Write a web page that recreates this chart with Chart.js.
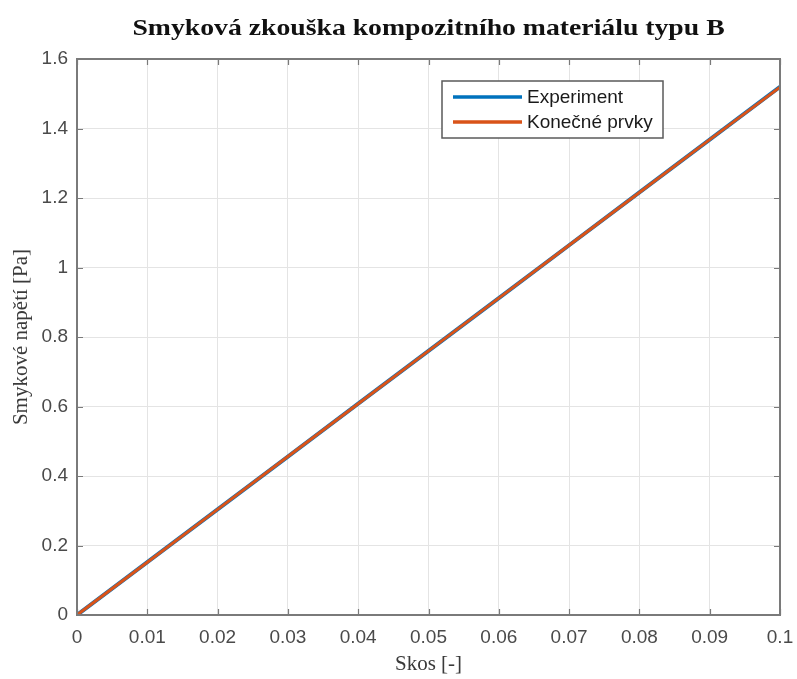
<!DOCTYPE html>
<html>
<head>
<meta charset="utf-8">
<script src="https://cdn.jsdelivr.net/npm/chart.js@4/dist/chart.umd.min.js"></script>
<style>
  html, body { margin: 0; padding: 0; background: #ffffff; }
  #wrap { width: 797px; height: 679px; }
</style>
</head>
<body>
<div id="wrap"><canvas id="c" width="797" height="679"></canvas></div>
<script>
// Skos (shear strain) samples
const skos = [0, 0.01, 0.02, 0.03, 0.04, 0.05, 0.06, 0.07, 0.08, 0.09, 0.1];
// Measured shear stress
const experiment = [0, 0.152, 0.304, 0.456, 0.608, 0.760, 0.912, 1.064, 1.216, 1.368, 1.520];
// Finite element result
const konecnePrvky = [0, 0.152, 0.304, 0.456, 0.608, 0.760, 0.912, 1.064, 1.216, 1.368, 1.519];

const xTickLabels = ['0', '0.01', '0.02', '0.03', '0.04', '0.05', '0.06', '0.07', '0.08', '0.09', '0.1'];
const yTickLabels = ['0', '0.2', '0.4', '0.6', '0.8', '1', '1.2', '1.4', '1.6'];

const chartTitle = 'Smyková zkouška kompozitního materiálu typu B';
const seriesNames = ['Experiment', 'Konečné prvky'];
const seriesColors = ['#0072BD', '#D95319'];

const AXIS_COLOR = '#7a7a7a';
const TICK_TEXT = '#4a4a4a';

function toPoints(xs, ys) { return xs.map((x, i) => ({ x: x, y: ys[i] })); }

// Bold serif title centred over the plot area, slightly widened
const plotTitle = {
  id: 'plotTitle',
  afterDraw(chart) {
    const { ctx, chartArea: a } = chart;
    const cx = (a.left + a.right) / 2;
    ctx.save();
    ctx.translate(cx, 35);
    ctx.scale(1.155, 1);
    ctx.font = 'bold 24px "Liberation Serif", "Times New Roman", serif';
    ctx.fillStyle = '#111111';
    ctx.textAlign = 'center';
    ctx.textBaseline = 'alphabetic';
    ctx.fillText(chartTitle, 0, 0);
    ctx.restore();
  }
};

// Box around the axes with inward tick marks on all four sides
const frameTicks = {
  id: 'frameTicks',
  afterDatasetsDraw(chart) {
    const { ctx, chartArea: a, scales } = chart;
    const len = 6;
    ctx.save();
    ctx.strokeStyle = AXIS_COLOR;
    ctx.lineWidth = 1.2;
    ctx.beginPath();
    scales.x.ticks.forEach(t => {
      const px = Math.round(scales.x.getPixelForValue(t.value)) + 0.5;
      ctx.moveTo(px, a.bottom); ctx.lineTo(px, a.bottom - len);
      ctx.moveTo(px, a.top); ctx.lineTo(px, a.top + len);
    });
    scales.y.ticks.forEach(t => {
      const py = Math.round(scales.y.getPixelForValue(t.value)) + 0.5;
      ctx.moveTo(a.left, py); ctx.lineTo(a.left + len, py);
      ctx.moveTo(a.right, py); ctx.lineTo(a.right - len, py);
    });
    ctx.stroke();
    ctx.lineWidth = 2;
    ctx.strokeRect(a.left, a.top, a.right - a.left, a.bottom - a.top);
    ctx.restore();
  }
};

// Legend box inside the axes, upper right
const boxLegend = {
  id: 'boxLegend',
  afterDraw(chart) {
    const { ctx } = chart;
    const x0 = 442, y0 = 81, w = 221, h = 57;
    ctx.save();
    ctx.fillStyle = '#ffffff';
    ctx.fillRect(x0, y0, w, h);
    ctx.strokeStyle = '#5a5a5a';
    ctx.lineWidth = 1.5;
    ctx.strokeRect(x0, y0, w, h);
    ctx.font = '19px "Liberation Sans", Arial, sans-serif';
    ctx.textBaseline = 'middle';
    ctx.textAlign = 'left';
    chart.data.datasets.forEach((ds, i) => {
      const yy = y0 + 16 + i * 25;
      ctx.strokeStyle = ds.borderColor;
      ctx.lineWidth = 3.5;
      ctx.beginPath();
      ctx.moveTo(x0 + 11, yy);
      ctx.lineTo(x0 + 80, yy);
      ctx.stroke();
      ctx.fillStyle = '#1a1a1a';
      ctx.fillText(ds.label, x0 + 85, yy + 1);
    });
    ctx.restore();
  }
};

new Chart(document.getElementById('c'), {
  type: 'line',
  data: {
    datasets: [
      {
        label: seriesNames[0],
        data: toPoints(skos, experiment),
        borderColor: seriesColors[0],
        borderWidth: 4,
        pointRadius: 0,
        tension: 0,
        order: 2
      },
      {
        label: seriesNames[1],
        data: toPoints(skos, konecnePrvky),
        borderColor: seriesColors[1],
        borderWidth: 3,
        pointRadius: 0,
        tension: 0,
        order: 1
      }
    ]
  },
  options: {
    responsive: false,
    animation: false,
    layout: { padding: { left: 0, right: 0, top: 59, bottom: 0 } },
    plugins: {
      legend: { display: false },
      tooltip: { enabled: false },
      title: { display: false }
    },
    scales: {
      x: {
        type: 'linear',
        min: 0,
        max: 0.1,
        afterFit: s => { s.height = 64; s.paddingRight = 17; s.paddingLeft = 0; },
        ticks: {
          stepSize: 0.01,
          padding: 11,
          color: TICK_TEXT,
          maxRotation: 0,
          font: { family: '"Liberation Sans", Arial, sans-serif', size: 19 },
          callback: (v, i) => xTickLabels[i]
        },
        grid: { color: '#e4e4e4', lineWidth: 1, drawTicks: false },
        border: { display: false },
        title: {
          display: true,
          text: 'Skos [-]',
          color: '#3a3a3a',
          font: { family: '"Liberation Serif", "Times New Roman", serif', size: 21 },
          padding: { top: 0, bottom: 2 }
        }
      },
      y: {
        type: 'linear',
        min: 0,
        max: 1.6,
        afterFit: s => { s.width = 77; },
        ticks: {
          stepSize: 0.2,
          padding: 9,
          color: TICK_TEXT,
          font: { family: '"Liberation Sans", Arial, sans-serif', size: 19 },
          callback: (v, i) => yTickLabels[i]
        },
        grid: { color: '#e4e4e4', lineWidth: 1, drawTicks: false },
        border: { display: false },
        title: {
          display: true,
          text: 'Smykové napětí [Pa]',
          color: '#3a3a3a',
          font: { family: '"Liberation Serif", "Times New Roman", serif', size: 21 },
          padding: { top: 9, bottom: 0 }
        }
      }
    }
  },
  plugins: [frameTicks, boxLegend, plotTitle]
});
</script>
</body>
</html>
